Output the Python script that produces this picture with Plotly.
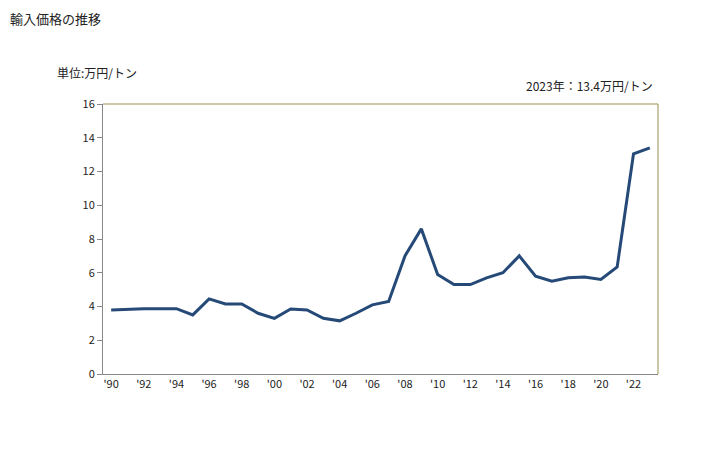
import plotly.graph_objects as go

years = list(range(1990, 2024))
values = [3.8, 3.85, 3.87, 3.87, 3.87, 3.5, 4.45, 4.15, 4.15, 3.6,
          3.3, 3.85, 3.8, 3.3, 3.15, 3.6, 4.1, 4.3, 7.0, 8.6,
          5.9, 5.3, 5.3, 5.7, 6.0, 7.0, 5.8, 5.5, 5.7, 5.75,
          5.6, 6.35, 13.05, 13.4]
tick_years = list(range(1990, 2023, 2))
tick_labels = ["'" + str(y)[2:] for y in tick_years]
y_ticks = [0, 2, 4, 6, 8, 10, 12, 14, 16]

font_family = "Noto Sans CJK JP"

fig = go.Figure()
fig.add_trace(go.Scatter(x=years, y=values, mode="lines",
                         line=dict(color="#264a78", width=3), hoverinfo="skip"))

fig.update_layout(
    width=728, height=450,
    margin=dict(l=95, r=78, t=96, b=84),
    paper_bgcolor="white", plot_bgcolor="white",
    showlegend=False,
    font=dict(family=font_family, size=11, color="#222"),
    xaxis=dict(range=[1989.5, 2023.5], tickvals=tick_years, ticktext=tick_labels,
               showgrid=False, zeroline=False, showline=True, linecolor="#888888",
               linewidth=1, ticks="", tickfont=dict(size=11, color="#222")),
    yaxis=dict(range=[0, 16], tickvals=y_ticks, showgrid=False, zeroline=False,
               showline=True, linecolor="#888888", linewidth=1, ticks="outside",
               ticklen=5, tickcolor="#888888", tickfont=dict(size=11, color="#222")),
    shapes=[
        dict(type="line", xref="paper", yref="paper", x0=0, x1=1, y0=1, y1=1,
             line=dict(color="#9b8f4e", width=1)),
        dict(type="line", xref="paper", yref="paper", x0=1, x1=1, y0=0, y1=1,
             line=dict(color="#9b8f4e", width=1)),
    ],
    annotations=[
        dict(text="輸入価格の推移", xref="paper", yref="paper", x=-0.171, y=1.318,
             xanchor="left", yanchor="middle", showarrow=False,
             font=dict(size=13, color="#222", family=font_family)),
        dict(text="単位:万円/トン", xref="paper", yref="paper", x=-0.0865, y=1.115,
             xanchor="left", yanchor="middle", showarrow=False,
             font=dict(size=12, color="#222", family=font_family)),
        dict(text="2023年：13.4万円/トン", xref="paper", yref="paper", x=0.9946, y=1.067,
             xanchor="right", yanchor="middle", showarrow=False,
             font=dict(size=12, color="#222", family=font_family)),
    ],
)

fig.write_html("out.html")
